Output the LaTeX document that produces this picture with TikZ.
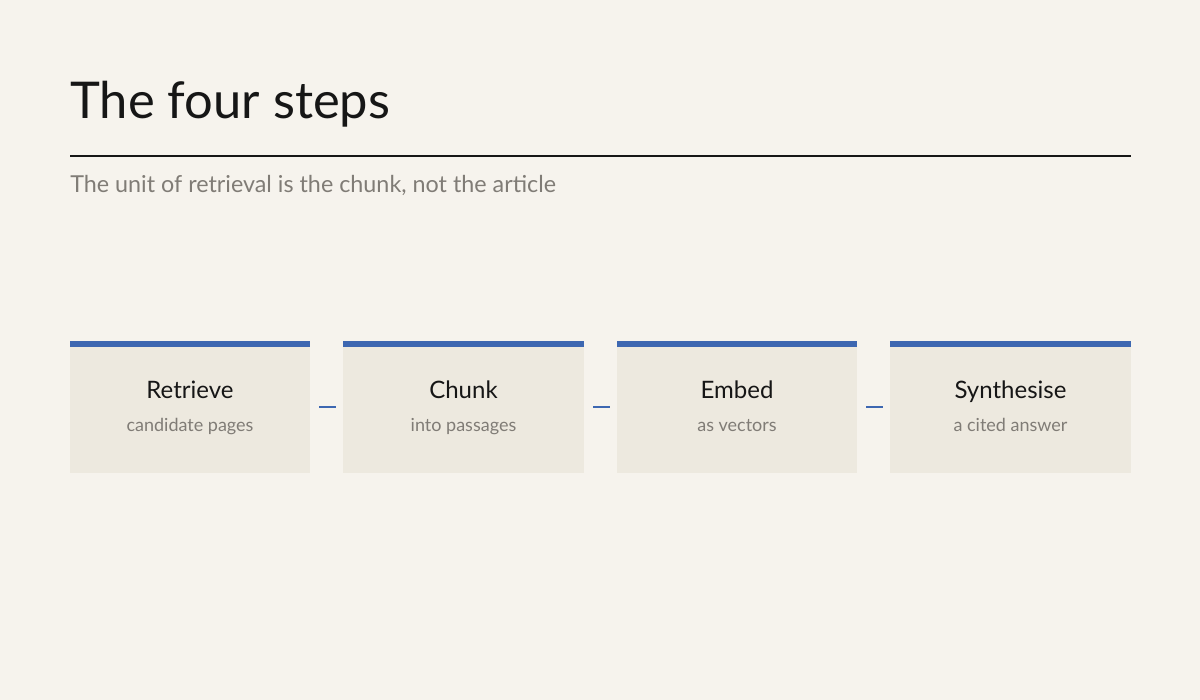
\documentclass[tikz,border=0pt]{standalone}
\usepackage{fontspec}
\setmainfont{Lato}
\definecolor{bg}{HTML}{F6F3ED}
\definecolor{boxc}{HTML}{EDE9DF}
\definecolor{acc}{HTML}{3D67B1}
\definecolor{ink}{HTML}{161616}
\definecolor{grayt}{HTML}{807C76}
\begin{document}
\begin{tikzpicture}[x=0.75pt,y=-0.75pt,
  box/.style={fill=boxc,draw=none},
  bar/.style={fill=acc,draw=none},
  lab/.style={anchor=base,text=ink,font=\fontsize{18}{20}\selectfont},
  sub/.style={anchor=base,text=grayt,font=\fontsize{13.5}{15}\selectfont},
  link/.style={draw=acc,line width=1.6pt}]
\fill[bg] (0,0) rectangle (1200,700);
\useasboundingbox (0,0) rectangle (1200,700);
\node[anchor=base west,inner sep=0,text=ink,font=\fontsize{38}{42}\selectfont] (title) at (70,118) {The four steps};
\draw[ink,line width=2.2pt] (70,156) -- (1131,156);
\node[anchor=base west,inner sep=0,text=grayt,font=\fontsize{17.5}{20}\selectfont] (subt) at (70,192) {The unit of retrieval is the chunk, not the article};
\foreach \i/\a/\b/\t/\s in {1/70/310/Retrieve/candidate pages,2/343/584/Chunk/into passages,3/617/857/Embed/as vectors,4/890/1131/Synthesise/a cited answer}{
  \fill[box] (\a,341) rectangle (\b,473);
  \fill[bar] (\a,341) rectangle (\b,347);
  \coordinate (L\i) at (\a,407);
  \coordinate (R\i) at (\b,407);
  \node[lab] (t\i) at ({(\a+\b)/2},398) {\t};
  \node[sub] (s\i) at ({(\a+\b)/2},431) {\s};
}
\foreach \i/\j in {1/2,2/3,3/4}{
  \draw[link,shorten >=7.5pt*0.75,shorten <=6.75pt] (R\i) -- (L\j);
}
\end{tikzpicture}
\end{document}
